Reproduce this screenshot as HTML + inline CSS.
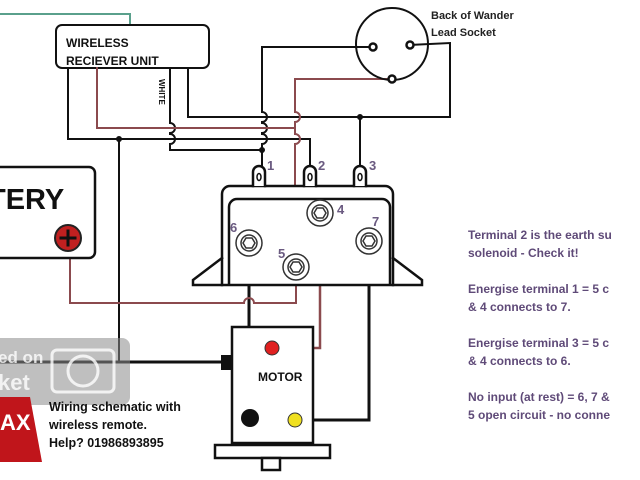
<!DOCTYPE html>
<html><head><meta charset="utf-8"><style>
html,body{margin:0;padding:0;background:#fff;width:640px;height:480px;overflow:hidden}
svg{display:block}
text{font-family:"Liberation Sans",sans-serif;font-weight:bold}
</style></head><body>
<svg width="640" height="480" viewBox="0 0 640 480" xmlns="http://www.w3.org/2000/svg">
<g fill="none" stroke-linecap="square">
<polyline points="0,14 130,14 130,25" stroke="#5aa08c" stroke-width="2"/>
<rect x="56" y="25" width="153" height="43" rx="6" stroke="#111" stroke-width="2" fill="#fff"/>
<g stroke="#111" stroke-width="2">
<polyline points="68,68 68,139 310,139 310,170"/>
<polyline points="188,68 188,117 450,117 450,43 410,45"/>
<path d="M262,47 H373 M262,47 V112 a5,5 0 0 1 0,10 V123 a5,5 0 0 1 0,10 V134 a5,5 0 0 1 0,10 V150"/>
<path d="M170,68 V123 a5,5 0 0 1 0,10 V134 a5,5 0 0 1 0,10 V150 H262 V168"/>
<line x1="119" y1="139" x2="119" y2="362"/>
<line x1="360" y1="117" x2="360" y2="168"/>
<line x1="0" y1="362" x2="225" y2="362" stroke-width="3"/>
<line x1="249" y1="256" x2="249" y2="418" stroke-width="3"/>
<polyline points="369,254 369,420 295,420" stroke-width="3"/>
</g>
<g stroke="#8b4a4e" stroke-width="2">
<polyline points="97,68 97,128 295,128"/>
<path d="M392,79 H295 V112 a5,5 0 0 1 0,10 V134 a5,5 0 0 1 0,10 V254"/>
<path d="M296,280 V303 H254 a5,5 0 0 0 -10,0 H70 V250"/>
<polyline points="320,226 320,348 280,348" stroke-width="2.5"/>
</g>
<circle cx="392" cy="44" r="36" stroke="#111" stroke-width="2"/>
<g stroke="#111" stroke-width="2.5" fill="#fff"><circle cx="373" cy="47" r="3.5"/><circle cx="410" cy="45" r="3.5"/><circle cx="392" cy="79" r="3.5"/></g>
<g stroke="#111" stroke-width="2.5">
<path d="M222,285 V194 a8,8 0 0 1 8,-8 H385 a8,8 0 0 1 8,8 V285" fill="#fff"/>
<path d="M229,284 V207 a8,8 0 0 1 8,-8 H382 a8,8 0 0 1 8,8 V284"/>
<polyline points="222,258 193,280 193,285 422,285 422,280 393,258"/>
<path d="M253,186 V172 a6,6 0 0 1 12,0 V186" fill="#fff"/>
<path d="M304,186 V172 a6,6 0 0 1 12,0 V186" fill="#fff"/>
<path d="M354,186 V172 a6,6 0 0 1 12,0 V186" fill="#fff"/>
</g>
<g stroke="#111" stroke-width="1.5"><ellipse cx="259" cy="177" rx="2" ry="3.5"/><ellipse cx="310" cy="177" rx="2" ry="3.5"/><ellipse cx="360" cy="177" rx="2" ry="3.5"/></g>
<g stroke="#333" stroke-width="1.5" fill="#fff">
<circle cx="249" cy="243" r="13"/><circle cx="249" cy="243" r="8"/><polygon points="243,243 246,238 252,238 255,243 252,248 246,248"/>
<circle cx="320" cy="213" r="13"/><circle cx="320" cy="213" r="8"/><polygon points="314,213 317,208 323,208 326,213 323,218 317,218"/>
<circle cx="369" cy="241" r="13"/><circle cx="369" cy="241" r="8"/><polygon points="363,241 366,236 372,236 375,241 372,246 366,246"/>
<circle cx="296" cy="267" r="13"/><circle cx="296" cy="267" r="8"/><polygon points="290,267 293,262 299,262 302,267 299,272 293,272"/>
</g>
<g stroke="#111" stroke-width="2.5" fill="#fff">
<rect x="232" y="327" width="81" height="116"/>
<rect x="215" y="445" width="115" height="13"/>
<rect x="262" y="458" width="18" height="12"/>
</g>
<rect x="221" y="355" width="10" height="15" fill="#111"/>
<circle cx="272" cy="348" r="7" fill="#e02020" stroke="#333"/>
<circle cx="250" cy="418" r="9" fill="#111"/>
<circle cx="295" cy="420" r="7" fill="#f0e020" stroke="#333"/>
<rect x="-10" y="167" width="105" height="91" rx="6" stroke="#111" stroke-width="2.5" fill="#fff"/>
<circle cx="68" cy="238" r="13" fill="#c02020" stroke="#222" stroke-width="2"/>
<path d="M68,231 V245 M61,238 H75" stroke="#111" stroke-width="3"/>
<g fill="#111"><circle cx="119" cy="139" r="3"/><circle cx="262" cy="150" r="3"/><circle cx="360" cy="117" r="3"/></g>
</g>
<rect x="-10" y="338" width="140" height="67" rx="8" fill="#8a8a8a" opacity="0.55"/>
<rect x="52" y="350" width="62" height="42" rx="5" fill="none" stroke="#fff" stroke-width="3" opacity="0.8"/>
<circle cx="83" cy="371" r="15" fill="none" stroke="#fff" stroke-width="3" opacity="0.8"/>
<text x="-2" y="363" font-size="17" fill="#fff" opacity="0.8" font-weight="normal">ed on</text>
<text x="-2" y="390" font-size="22" fill="#fff" opacity="0.8" font-weight="normal">ket</text>
<polygon points="0,397 30,397 42,462 0,462" fill="#c0151b"/>
<text x="0" y="430" font-size="22" fill="#fff">AX</text>
<text x="66" y="47" font-size="12" fill="#111">WIRELESS</text>
<text x="66" y="65" font-size="12" fill="#111">RECIEVER UNIT</text>
<text x="0" y="0" font-size="8" fill="#111" transform="translate(159,79) rotate(90)">WHITE</text>
<text x="431" y="19" font-size="11" fill="#222">Back of Wander</text>
<text x="431" y="36" font-size="11" fill="#222">Lead Socket</text>
<text x="-12" y="209" font-size="29" fill="#111">TERY</text>
<text x="258" y="381" font-size="12" fill="#111">MOTOR</text>
<g font-size="13" fill="#6a5a80">
<text x="267" y="170">1</text><text x="318" y="170">2</text><text x="369" y="170">3</text>
<text x="337" y="214">4</text><text x="278" y="258">5</text><text x="230" y="232">6</text><text x="372" y="226">7</text>
</g>
<g font-size="12.5" fill="#111"><text x="49" y="411">Wiring schematic with</text><text x="49" y="429">wireless remote.</text><text x="49" y="447">Help? 01986893895</text></g>
<g font-size="12" fill="#5f4a78">
<text x="468" y="239">Terminal 2 is the earth su</text><text x="468" y="257">solenoid - Check it!</text>
<text x="468" y="293">Energise terminal 1 = 5 c</text><text x="468" y="311">&amp; 4 connects to 7.</text>
<text x="468" y="347">Energise terminal 3 = 5 c</text><text x="468" y="365">&amp; 4 connects to 6.</text>
<text x="468" y="401">No input (at rest) = 6, 7 &amp;</text><text x="468" y="419">5 open circuit - no conne</text>
</g>
</svg>
</body></html>
